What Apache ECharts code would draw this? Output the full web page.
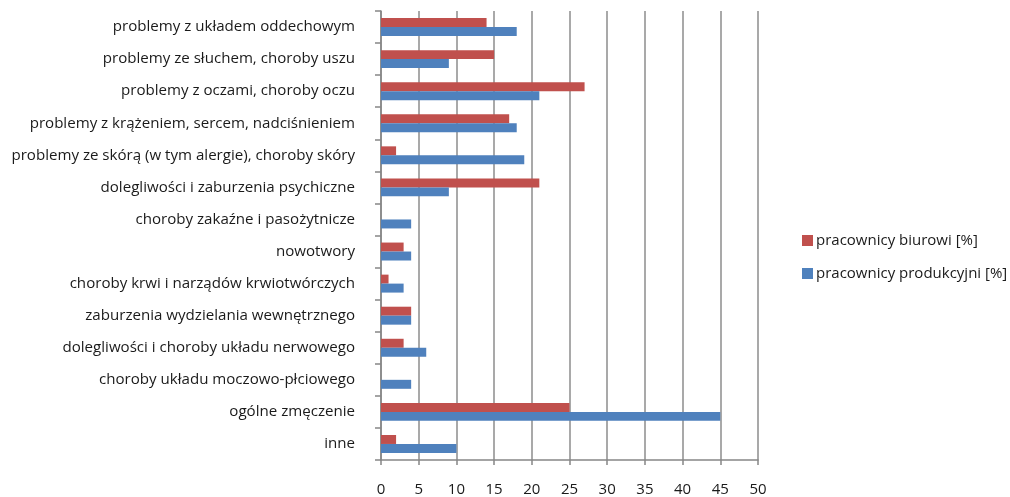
<!DOCTYPE html>
<html>
<head>
<meta charset="utf-8">
<script src="https://cdn.jsdelivr.net/npm/echarts@6/dist/echarts.min.js"></script>
<style>
  html, body { margin: 0; padding: 0; background: #fff; }
  #chart { width: 1010px; height: 497px; }
</style>
</head>
<body>
<div id="chart"></div>
<script>
// Categories listed top to bottom
const categories = [
  'problemy z układem oddechowym',
  'problemy ze słuchem, choroby uszu',
  'problemy z oczami, choroby oczu',
  'problemy z krążeniem, sercem, nadciśnieniem',
  'problemy ze skórą (w tym alergie), choroby skóry',
  'dolegliwości i zaburzenia psychiczne',
  'choroby zakaźne i pasożytnicze',
  'nowotwory',
  'choroby krwi i narządów krwiotwórczych',
  'zaburzenia wydzielania wewnętrznego',
  'dolegliwości i choroby układu nerwowego',
  'choroby układu moczowo-płciowego',
  'ogólne zmęczenie',
  'inne'
];
const seriesNames = ['pracownicy biurowi [%]', 'pracownicy produkcyjni [%]'];
const biurowi = [14, 15, 27, 17, 2, 21, 0, 3, 1, 4, 3, 0, 25, 2];
const produkcyjni = [18, 9, 21, 18, 19, 9, 4, 4, 3, 4, 6, 4, 45, 10];

const FONT = '"Open Sans", sans-serif';
const TEXT = '#1a1a1a';
const AXIS_GRAY = '#868686';

const chart = echarts.init(document.getElementById('chart'), null, { renderer: 'canvas' });
chart.setOption({
  animation: false,
  backgroundColor: '#ffffff',
  textStyle: { fontFamily: FONT },
  grid: { left: 381, right: 252, top: 11, bottom: 37, containLabel: false },
  legend: {
    orient: 'vertical',
    left: 797,
    top: 228,
    itemWidth: 11,
    itemHeight: 11,
    itemGap: 18,
    icon: 'rect',
    textStyle: { fontFamily: FONT, fontSize: 15, color: TEXT, padding: [0, 0, 0, -2] },
    data: seriesNames
  },
  xAxis: {
    type: 'value',
    min: 0,
    max: 50,
    interval: 5,
    axisLine: { show: true, lineStyle: { color: AXIS_GRAY, width: 1.5 } },
    axisTick: { show: true, length: 5, lineStyle: { color: AXIS_GRAY, width: 1.5 } },
    axisLabel: { fontFamily: FONT, fontSize: 15, color: TEXT, margin: 22 },
    splitLine: { show: true, lineStyle: { color: '#8c8c8c', width: 1.5 } }
  },
  yAxis: {
    type: 'category',
    inverse: true,
    data: categories,
    axisLine: { show: true, lineStyle: { color: AXIS_GRAY, width: 1.5 } },
    axisTick: { show: true, length: 6, lineStyle: { color: AXIS_GRAY, width: 1.5 } },
    axisLabel: { fontFamily: FONT, fontSize: 15.1, color: TEXT, margin: 26 }
  },
  series: [
    {
      name: seriesNames[0],
      type: 'bar',
      data: biurowi,
      barGap: '0%',
      barCategoryGap: '44%',
      itemStyle: { color: '#C0504D' }
    },
    {
      name: seriesNames[1],
      type: 'bar',
      data: produkcyjni,
      barGap: '0%',
      barCategoryGap: '44%',
      itemStyle: { color: '#4F81BD' }
    }
  ]
});
</script>
</body>
</html>
